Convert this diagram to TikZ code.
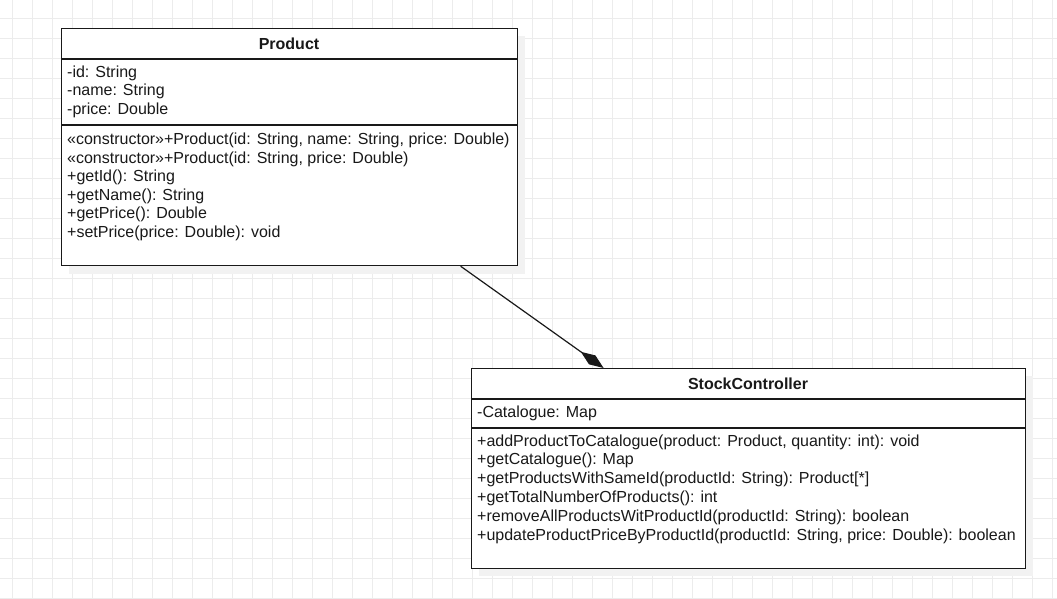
\documentclass[tikz,border=0pt]{standalone}
\usepackage{fontspec}
\setmainfont{Liberation Sans}
\usetikzlibrary{arrows.meta}
\definecolor{gridc}{RGB}{236,236,236}
\definecolor{shadowc}{RGB}{242,242,242}
\definecolor{linec}{RGB}{25,25,25}
\definecolor{textc}{RGB}{25,25,25}
\begin{document}
\begin{tikzpicture}[x=1pt,y=-1pt,
  classbox/.style={draw=linec, line width=1.2pt, fill=white, inner sep=0pt, anchor=north west},
  member/.style={anchor=base west, inner sep=0pt, font=\fontsize{16}{19}\selectfont, text=textc},
  classtitle/.style={anchor=base, inner sep=0pt, font=\fontsize{16}{19}\selectfont\bfseries, text=textc},
  divider/.style={draw=linec, line width=1.2pt},
  comp/.style={draw=linec, line width=1.2pt, -{Diamond[length=28pt,width=11pt]}}
]
\useasboundingbox (0,0) rectangle (1057,598);
\fill[white] (0,0) rectangle (1057,598);
\foreach \x in {12,32,...,1052} \draw[gridc, line width=1pt] (\x,0) -- (\x,598);
\foreach \y in {18,38,...,598} \draw[gridc, line width=1pt] (0,\y) -- (1057,\y);

% Product
\fill[shadowc] (69,36) rectangle (525,274);
\node[classbox, minimum width=456pt, minimum height=237pt] (product) at (61,28) {};
\draw[divider] (product.west |- 0,59) -- (product.east |- 0,59);
\draw[divider] (product.west |- 0,125) -- (product.east |- 0,125);
\node[classtitle] (ptitle) at (289,49) {Product};
\node[member] (pa1) at (67,77) {-id: String};
\node[member] (pa2) at (67,95.5) {-name: String};
\node[member] (pa3) at (67,114) {-price: Double};
\node[member] (pm1) at (67,144.5) {«constructor»+Product(id: String, name: String, price: Double)};
\node[member] (pm2) at (67,163) {«constructor»+Product(id: String, price: Double)};
\node[member] (pm3) at (67,181.5) {+getId(): String};
\node[member] (pm4) at (67,200) {+getName(): String};
\node[member] (pm5) at (67,218.5) {+getPrice(): Double};
\node[member] (pm6) at (67,237) {+setPrice(price: Double): void};

% StockController
\fill[shadowc] (479,376) rectangle (1033,576);
\node[classbox, minimum width=554pt, minimum height=200pt] (stock) at (471,368) {};
\draw[divider] (stock.west |- 0,399) -- (stock.east |- 0,399);
\draw[divider] (stock.west |- 0,428) -- (stock.east |- 0,428);
\node[classtitle] (stitle) at (748,389) {StockController};
\node[member] (sa1) at (477,417) {-Catalogue: Map};
\node[member] (sm1) at (477,446) {+addProductToCatalogue(product: Product, quantity: int): void};
\node[member] (sm2) at (477,464.8) {+getCatalogue(): Map};
\node[member] (sm3) at (477,483.6) {+getProductsWithSameId(productId: String): Product[*]};
\node[member] (sm4) at (477,502.4) {+getTotalNumberOfProducts(): int};
\node[member] (sm5) at (477,521.2) {+removeAllProductsWitProductId(productId: String): boolean};
\node[member] (sm6) at (477,540) {+updateProductPriceByProductId(productId: String, price: Double): boolean};

% composition
\draw[comp] ([xshift=171pt]product.south) -- ([xshift=-145pt]stock.north);
\end{tikzpicture}
\end{document}
